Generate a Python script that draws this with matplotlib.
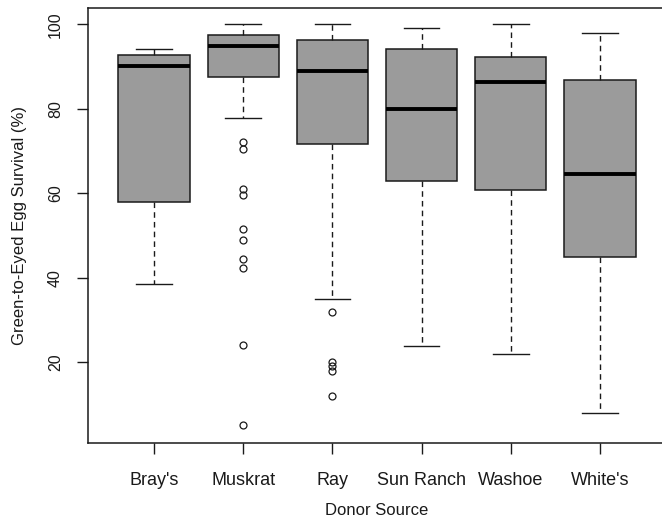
import matplotlib
matplotlib.use('Agg')
import matplotlib.pyplot as plt

plt.rcParams['font.family'] = ['Liberation Sans', 'DejaVu Sans']

sources = ["Bray's", 'Muskrat', 'Ray', 'Sun Ranch', 'Washoe', "White's"]
whis_lo = [38.5, 77.7, 35.0, 23.9, 21.9, 7.9]
q1 = [57.9, 87.6, 71.6, 62.9, 60.8, 44.8]
med = [90.1, 94.9, 88.9, 80.0, 86.3, 64.5]
q3 = [92.7, 97.5, 96.4, 94.2, 92.3, 86.8]
whis_hi = [94.1, 100.0, 100.0, 99.2, 100.0, 97.9]
outliers = [
    [],
    [72.2, 70.5, 61.1, 59.5, 51.5, 48.9, 44.3, 42.2, 24.0, 5.0],
    [31.9, 19.9, 19.0, 18.0, 12.0],
    [],
    [],
    [],
]

stats = []
for i, name in enumerate(sources):
    stats.append(dict(label=name, whislo=whis_lo[i], q1=q1[i], med=med[i],
                      q3=q3[i], whishi=whis_hi[i], fliers=outliers[i]))

fig = plt.figure(figsize=(6.62, 5.23), dpi=100)
ax = fig.add_axes([88/662, 80.3/523, 578/662, 434.4/523])

ink = '#1a1a1a'
ax.bxp(stats, positions=range(1, 7), widths=0.8, capwidths=0.4,
       patch_artist=True,
       boxprops=dict(facecolor='#9b9b9b', edgecolor=ink, linewidth=1.1),
       medianprops=dict(color='black', linewidth=2.8, solid_capstyle='butt'),
       whiskerprops=dict(color=ink, linewidth=1.0, linestyle=(0, (4, 3))),
       capprops=dict(color=ink, linewidth=1.0),
       flierprops=dict(marker='o', markerfacecolor='none', markeredgecolor=ink,
                       markersize=5, markeredgewidth=0.9))

ax.set_xlim(0.26, 6.74)
ax.set_ylim(0.9, 103.8)
ax.set_yticks([20, 40, 60, 80, 100])
ax.set_xticks(range(1, 7))
ax.set_xticklabels(sources, fontsize=13, color=ink)
ax.tick_params(axis='x', length=8, width=1, color=ink, pad=13)
ax.tick_params(axis='y', length=8, width=1, color=ink, pad=10,
               labelsize=11.5, labelcolor=ink, labelrotation=90)
for lab in ax.get_yticklabels():
    lab.set_va('center')

for s in ax.spines.values():
    s.set_color(ink)
    s.set_linewidth(1.1)

ax.set_xlabel('Donor Source', fontsize=12, color=ink, labelpad=10)
ax.set_ylabel('Green-to-Eyed Egg Survival (%)', fontsize=12, color=ink, labelpad=15)

fig.savefig('out.png', dpi=100)
